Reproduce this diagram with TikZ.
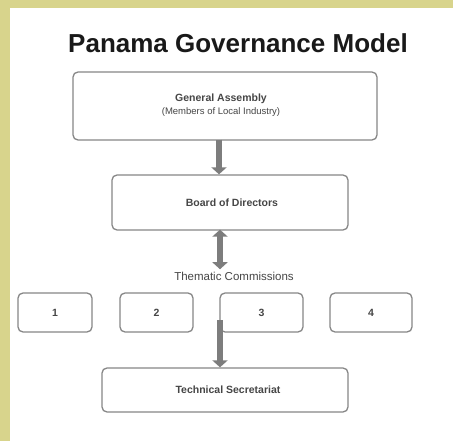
\documentclass[tikz,border=0pt]{standalone}
\usepackage{fontspec}
\setmainfont{Liberation Sans}
\usetikzlibrary{arrows.meta}
\definecolor{frameolive}{RGB}{216,212,140}
\definecolor{boxline}{RGB}{135,135,135}
\definecolor{arrowgray}{RGB}{125,125,125}
\definecolor{labelgray}{RGB}{70,70,70}
\tikzset{
  orgbox/.style={draw=boxline, line width=1.3pt, rounded corners=5pt, fill=white, inner sep=0pt},
  boxtext/.style={font=\bfseries\fontsize{10.5}{12}\selectfont, text=labelgray},
  blockarrow/.style={draw=arrowgray, line width=6pt, -{Triangle[length=7pt,width=15pt]}},
  blockarrows/.style={draw=arrowgray, line width=6pt, {Triangle[length=7pt,width=15pt]}-{Triangle[length=7pt,width=15pt]}}
}
\begin{document}
\begin{tikzpicture}[x=1pt,y=-1pt]
  \useasboundingbox (0,0) rectangle (453,441);
  % olive frame on the top and left, white panel elsewhere
  \fill[frameolive] (0,0) rectangle (453,441);
  \fill[white] (10,8) rectangle (453,441);

  \node[font=\bfseries\fontsize{26}{30}\selectfont, text=black!90] (title) at (238,43) {Panama Governance Model};

  \node[orgbox, minimum width=304pt, minimum height=68pt] (ga) at (225,106) {};
  \node[boxtext, align=center] (gatext) at (221,105) {General Assembly\\[1pt]{\mdseries\fontsize{9.5}{11}\selectfont (Members of Local Industry)}};

  \node[orgbox, minimum width=236pt, minimum height=55pt] (bd) at (230,202.5) {};
  \node[boxtext] (bdtext) at (232,203) {Board of Directors};

  \node[boxtext, font=\mdseries\fontsize{11.5}{13}\selectfont] (tc) at (234,276) {Thematic Commissions};

  \node[orgbox, minimum width=74pt, minimum height=39pt] (c1) at (55,312.5) {};
  \node[orgbox, minimum width=73pt, minimum height=39pt] (c2) at (156.5,312.5) {};
  \node[orgbox, minimum width=83pt, minimum height=39pt] (c3) at (261.5,312.5) {};
  \node[orgbox, minimum width=82pt, minimum height=39pt] (c4) at (371,312.5) {};
  \node[boxtext] (n1) at (c1) {1};
  \node[boxtext] (n2) at (c2) {2};
  \node[boxtext] (n3) at (c3) {3};
  \node[boxtext] (n4) at (c4) {4};

  \node[orgbox, minimum width=246pt, minimum height=44pt] (ts) at (225,390) {};
  \node[boxtext] (tstext) at (228,390) {Technical Secretariat};

  % block arrows linking the levels
  \coordinate (a1s) at (ga.south -| 219,0);
  \coordinate (a1e) at (bd.north -| 219,0);
  \draw[blockarrow] ([yshift=1pt]a1s) -- (a1e);
  \coordinate (a2s) at (bd.south -| 220,0);
  \coordinate (a2e) at (tc.north -| 220,0);
  \draw[blockarrows] ([yshift=1pt]a2s) -- ([yshift=-1pt]a2e);
  \coordinate (a3s) at (220,320);
  \coordinate (a3e) at (ts.north -| 220,0);
  \draw[blockarrow] (a3s) -- (a3e);
\end{tikzpicture}
\end{document}
